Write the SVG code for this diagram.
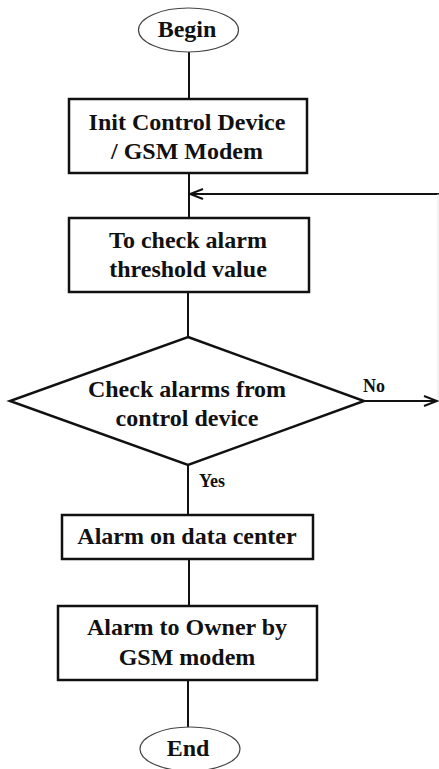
<svg xmlns="http://www.w3.org/2000/svg" width="439" height="769" viewBox="0 0 439 769">
<style>
text{font-family:"Liberation Serif","Times New Roman",serif;font-weight:bold;fill:#111;text-anchor:middle}
.box{fill:#fff;stroke:#111;stroke-width:2.5}
.term{fill:#fff;stroke:#444;stroke-width:1.2}
.conn{stroke:#111;stroke-width:2;fill:none}
.lbl{font-size:18px;text-anchor:start}
.t{font-size:24px}
</style>
<defs>
<marker id="arr" markerWidth="16" markerHeight="12" refX="14" refY="6" orient="auto" markerUnits="userSpaceOnUse">
<path d="M1,1 L14,6 L1,11" fill="none" stroke="#111" stroke-width="2"/>
</marker>
</defs>
<rect width="439" height="769" fill="#fff"/>
<g id="connectors">
<line class="conn" x1="189" y1="52" x2="189" y2="99"/>
<line class="conn" x1="189" y1="173" x2="189" y2="218"/>
<line class="conn" x1="439" y1="194" x2="190" y2="194" marker-end="url(#arr)"/>
<line x1="438" y1="194" x2="438" y2="401" stroke="#e6e6e6" stroke-width="1"/>
<line class="conn" x1="188" y1="292" x2="188" y2="337"/>
<line class="conn" x1="364" y1="401" x2="437" y2="401" marker-end="url(#arr)"/>
<line class="conn" x1="188" y1="465" x2="188" y2="515"/>
<line class="conn" x1="189" y1="559" x2="189" y2="606"/>
<line class="conn" x1="188" y1="680" x2="188" y2="727"/>
<text class="lbl" x="363" y="392">No</text>
<text class="lbl" x="199" y="487">Yes</text>
</g>
<g id="begin">
<ellipse class="term" cx="188.5" cy="30" rx="50" ry="22"/>
<text class="t" x="187" y="37">Begin</text>
</g>
<g id="init">
<rect class="box" x="69" y="99" width="238" height="74"/>
<text class="t" x="187" y="130">Init Control Device</text>
<text class="t" x="187" y="159">/ GSM Modem</text>
</g>
<g id="threshold">
<rect class="box" x="69" y="218" width="240" height="74"/>
<text class="t" x="188" y="248">To check alarm</text>
<text class="t" x="188" y="277">threshold value</text>
</g>
<g id="decision">
<polygon class="box" points="188,337 364,401 188,465 10,401"/>
<text class="t" x="187" y="397">Check alarms from</text>
<text class="t" x="187" y="426">control device</text>
</g>
<g id="datacenter">
<rect class="box" x="62" y="515" width="251" height="44"/>
<text class="t" x="187" y="544">Alarm on data center</text>
</g>
<g id="owner">
<rect class="box" x="58" y="606" width="259" height="74"/>
<text class="t" x="187" y="635">Alarm to Owner by</text>
<text class="t" x="187" y="665">GSM modem</text>
</g>
<g id="end">
<ellipse class="term" cx="190" cy="749" rx="50" ry="22"/>
<text class="t" x="188" y="756">End</text>
</g>
</svg>
